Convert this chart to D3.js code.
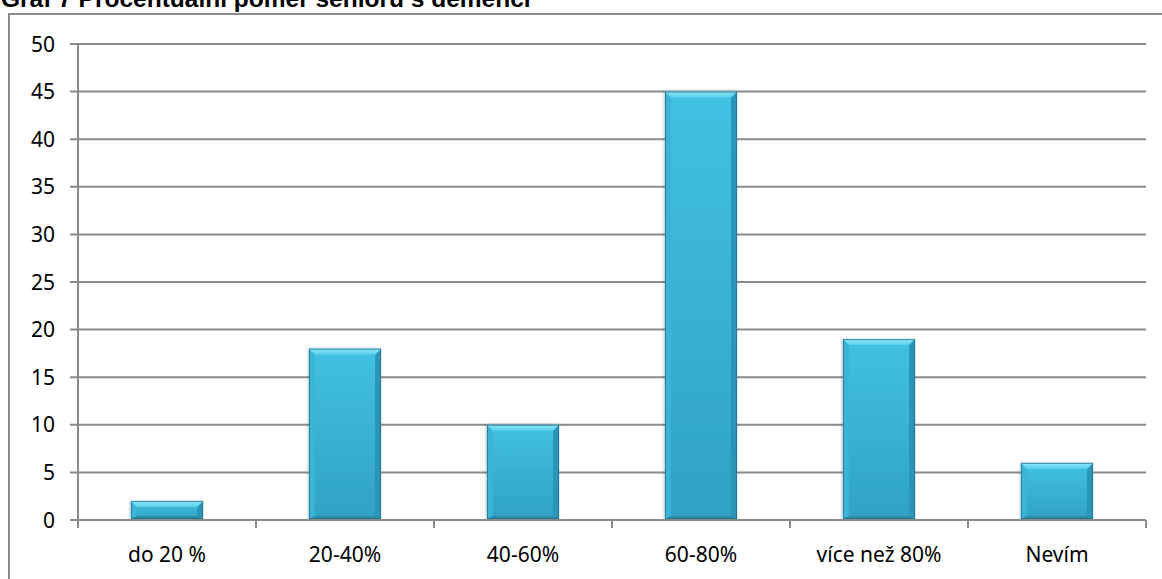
<!DOCTYPE html>
<html><head><meta charset="utf-8">
<script src="https://cdn.jsdelivr.net/npm/d3@7"></script>
<style>body{margin:0;background:#fff;overflow:hidden}</style>
</head><body>
<svg id="c" width="1162" height="579"></svg>
<script>
const titleText = "Graf 7 Procentuální poměr seniorů s demencí";
const categories = ["do 20 %", "20-40%", "40-60%", "60-80%", "více než 80%", "Nevím"];
const values = [2, 18, 10, 45, 19, 6];
const yTicks = [0, 5, 10, 15, 20, 25, 30, 35, 40, 45, 50];

const svg = d3.select("#c");
const L = 78, R = 1146, T = 44, B = 520;
const x = d3.scaleBand().domain(categories).range([L, R]).paddingInner(0.595).paddingOuter(0.2975);
const xb = d3.scaleBand().domain(categories).range([L, R]);
const y = d3.scaleLinear().domain([0, 50]).range([B, T]);
const grid = "#8a8a8a";

// outer frame
svg.append("path").attr("d", "M9,600 L9,14 L1180,14").attr("fill", "none").attr("stroke", grid).attr("stroke-width", 2);

// title
svg.append("text").attr("x", 1).attr("y", 7).attr("font-family", "'Liberation Sans', Arial, sans-serif")
  .attr("font-weight", "bold").attr("font-size", 24.5).attr("fill", "#000").text(titleText);

const defs = svg.append("defs");
const g1 = defs.append("linearGradient").attr("id", "main").attr("x1", 0).attr("y1", 0).attr("x2", 0).attr("y2", 1);
g1.append("stop").attr("offset", "0%").attr("stop-color", "#42c1e3");
g1.append("stop").attr("offset", "100%").attr("stop-color", "#2fa2c3");
const g2 = defs.append("linearGradient").attr("id", "topb").attr("x1", 0).attr("y1", 0).attr("x2", 0).attr("y2", 1);
g2.append("stop").attr("offset", "0%").attr("stop-color", "#8ce8f8");
g2.append("stop").attr("offset", "100%").attr("stop-color", "#58cfec");
const f = defs.append("filter").attr("id", "sh").attr("x", "-20%").attr("y", "-20%").attr("width", "140%").attr("height", "140%");
f.append("feDropShadow").attr("dx", -1).attr("dy", 0).attr("stdDeviation", 1.5).attr("flood-color", "#000").attr("flood-opacity", 0.22);

// gridlines
svg.append("g").selectAll("line").data(yTicks).join("line")
  .attr("x1", L - 8).attr("x2", R).attr("y1", d => y(d)).attr("y2", d => y(d))
  .attr("stroke", grid).attr("stroke-width", 2);

// bars
const bars = svg.append("g").selectAll("g").data(categories.map((c, i) => ({c, v: values[i]}))).join("g")
  .attr("filter", "url(#sh)");
bars.each(function(d) {
  const g = d3.select(this);
  const x0 = x(d.c), w = x.bandwidth(), y0 = y(d.v), y1 = y(0) - 1;
  const b = Math.min(6, (y1 - y0) / 3);
  const bb = Math.min(3, b);
  const x1 = x0 + w;
  g.append("rect").attr("x", x0).attr("y", y0).attr("width", w).attr("height", y1 - y0).attr("fill", "url(#main)");
  g.append("path").attr("d", `M${x0},${y0}L${x0+b},${y0+b}L${x0+b},${y1-bb}L${x0},${y1}Z`).attr("fill", "#3ab4d7");
  g.append("path").attr("d", `M${x1},${y0}L${x1},${y1}L${x1-b},${y1-bb}L${x1-b},${y0+b}Z`).attr("fill", "#2c95b6");
  g.append("path").attr("d", `M${x0},${y1}L${x1},${y1}L${x1-b},${y1-bb}L${x0+b},${y1-bb}Z`).attr("fill", "#2a8aa8");
  g.append("path").attr("d", `M${x0},${y0}L${x1},${y0}L${x1-b},${y0+b}L${x0+b},${y0+b}Z`).attr("fill", "url(#topb)");
  g.append("rect").attr("x", x0 + 0.5).attr("y", y0 + 0.5).attr("width", w - 1).attr("height", y1 - y0 - 1)
    .attr("fill", "none").attr("stroke", "#1f6f88").attr("stroke-width", 1).attr("stroke-opacity", 0.75);
});

// axes
svg.append("line").attr("x1", L).attr("x2", L).attr("y1", T).attr("y2", B).attr("stroke", grid).attr("stroke-width", 2);
svg.append("line").attr("x1", L - 8).attr("x2", R).attr("y1", B).attr("y2", B).attr("stroke", grid).attr("stroke-width", 2);
const xTickPos = categories.map(c => xb(c)).concat([R]);
svg.append("g").selectAll("line").data(xTickPos).join("line")
  .attr("x1", d => d).attr("x2", d => d).attr("y1", B).attr("y2", B + 8)
  .attr("stroke", grid).attr("stroke-width", 2);

const font = "'Noto Sans', 'Open Sans', sans-serif";
svg.append("g").selectAll("text").data(yTicks).join("text")
  .attr("x", 55).attr("y", d => y(d)).attr("dy", "0.36em").attr("text-anchor", "end")
  .attr("font-family", font).attr("font-size", 21).attr("fill", "#000").text(d => d);
svg.append("g").selectAll("text").data(categories).join("text")
  .attr("x", d => xb(d) + xb.bandwidth() / 2).attr("y", 562).attr("text-anchor", "middle")
  .attr("font-family", font).attr("font-size", 21).attr("fill", "#000").text(d => d);
</script>
</body></html>
